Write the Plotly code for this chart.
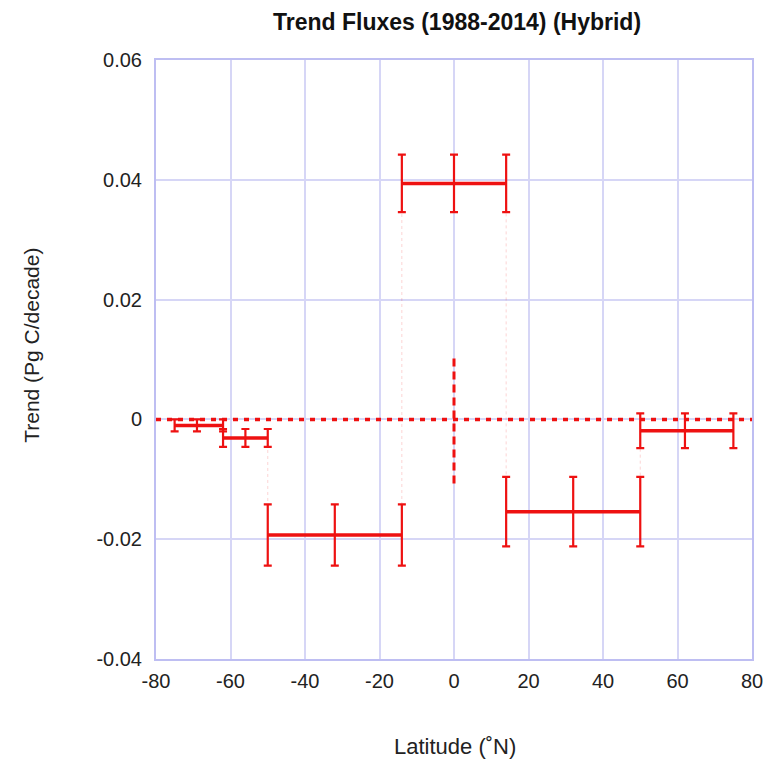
import plotly.graph_objects as go

# ---- data ----
lat_lo = [-75, -62, -50, -14, 14, 50]
lat_mid = [-69, -56, -32, 0, 32, 62]
lat_hi = [-62, -50, -14, 14, 50, 75]
trend = [-0.0010, -0.0031, -0.0193, 0.0394, -0.0154, -0.0019]
trend_err = [0.0010, 0.0015, 0.0051, 0.0048, 0.0058, 0.0029]

x_ticks = [-80, -60, -40, -20, 0, 20, 40, 60, 80]
y_ticks = [-0.04, -0.02, 0, 0.02, 0.04, 0.06]
y_ticklabels = ["-0.04", "-0.02", "0", "0.02", "0.04", "0.06"]
x_ticklabels = ["-80", "-60", "-40", "-20", "0", "20", "40", "60", "80"]

zero_line_x = [-80, 80]
center_line_y = [-0.0107, 0.0102]

RED = "#EE1111"
GRID = "#D6D6F6"
FRAME = "#BEBEF2"
FONT = "Liberation Sans, Arial, sans-serif"

fig = go.Figure()

# faint connectors between adjacent segments
for i in range(len(trend) - 1):
    fig.add_trace(go.Scatter(
        x=[lat_hi[i], lat_hi[i]], y=[trend[i], trend[i + 1]],
        mode="lines", line=dict(color="rgba(238,17,17,0.18)", width=1, dash="dot"),
        hoverinfo="skip", showlegend=False))

# zero line (dotted)
fig.add_trace(go.Scatter(
    x=zero_line_x, y=[0, 0], mode="lines",
    line=dict(color=RED, width=3.5, dash="5px,6px"), showlegend=False))

# vertical dashed at equator
fig.add_trace(go.Scatter(
    x=[0, 0], y=center_line_y, mode="lines",
    line=dict(color=RED, width=3, dash="8px,5px"), showlegend=False))

for lo, mid, hi, v, e in zip(lat_lo, lat_mid, lat_hi, trend, trend_err):
    fig.add_trace(go.Scatter(
        x=[lo, mid, hi], y=[v, v, v], mode="lines",
        line=dict(color=RED, width=3.5),
        error_y=dict(type="data", array=[e, e, e], visible=True,
                     color=RED, thickness=2.2, width=4),
        showlegend=False))

fig.update_layout(
    width=775, height=763,
    margin=dict(l=156, r=19, t=60, b=104),
    paper_bgcolor="white", plot_bgcolor="white",
    font=dict(family=FONT, size=20, color="#222222"),
    showlegend=False,
    title=dict(text="<b>Trend Fluxes (1988-2014) (Hybrid)</b>",
               x=457 / 775, xanchor="center", y=1 - 22 / 763, yanchor="middle",
               font=dict(family=FONT, size=23, color="#111111")),
)

fig.update_xaxes(
    range=[-80, 80], tickvals=x_ticks, ticktext=x_ticklabels,
    showgrid=True, gridcolor=GRID, gridwidth=1.5,
    showline=True, linecolor=FRAME, linewidth=2, mirror=True,
    zeroline=False, ticks="outside", ticklen=3, tickcolor="rgba(0,0,0,0)",
    tickfont=dict(size=20, color="#222222"),
)
fig.update_yaxes(
    range=[-0.04, 0.06], tickvals=y_ticks, ticktext=y_ticklabels,
    showgrid=True, gridcolor=GRID, gridwidth=2,
    showline=True, linecolor=FRAME, linewidth=2, mirror=True,
    zeroline=False, ticks="outside", ticklen=8, tickcolor="rgba(0,0,0,0)",
    tickfont=dict(size=20, color="#222222"),
)

fig.add_annotation(text="Latitude (˚N)", xref="paper", yref="paper",
                   x=(457 - 156) / 600, y=-(746 - 659) / 599, xanchor="center", yanchor="middle",
                   showarrow=False, font=dict(family=FONT, size=22, color="#222222"))
fig.add_annotation(text="Trend (Pg C/decade)", xref="paper", yref="paper",
                   x=-(156 - 30) / 600, y=(659 - 345) / 599, xanchor="center", yanchor="middle",
                   textangle=-90, showarrow=False,
                   font=dict(family=FONT, size=21, color="#222222"))

fig.write_html("out.html")
